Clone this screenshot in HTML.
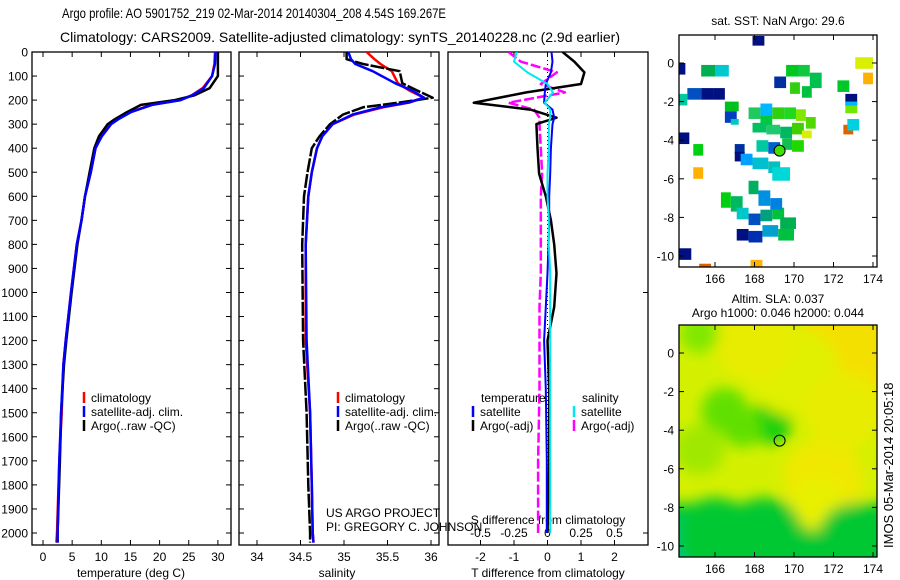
<!DOCTYPE html>
<html><head><meta charset="utf-8">
<style>
html,body{margin:0;padding:0;background:#fff;}
svg{display:block;font-family:"Liberation Sans",sans-serif;}
</style></head>
<body>
<svg id="fig" width="900" height="580" viewBox="0 0 900 580">
<defs>
<filter id="blur" x="-50%" y="-50%" width="200%" height="200%"><feGaussianBlur stdDeviation="7"/></filter>
<clipPath id="clipT"><rect x="32" y="52" width="199" height="493"/></clipPath>
<clipPath id="clipS"><rect x="239" y="52" width="200" height="493"/></clipPath>
<clipPath id="clipD"><rect x="448" y="52" width="200" height="493"/></clipPath>
<clipPath id="clipM1"><rect x="679" y="35" width="198" height="232"/></clipPath>
<clipPath id="clipM2"><rect x="679" y="325" width="198" height="232"/></clipPath>
</defs>
<text x="62" y="18" font-size="14" textLength="384" lengthAdjust="spacingAndGlyphs">Argo profile: AO 5901752_219 02-Mar-2014 20140304_208 4.54S 169.267E</text>
<text x="60" y="42" font-size="14" textLength="560" lengthAdjust="spacingAndGlyphs">Climatology: CARS2009. Satellite-adjusted climatology: synTS_20140228.nc (2.9d earlier)</text>

<g id="gT"></g>
<g id="gS"></g>
<g id="gD"></g>
<g id="gM1"></g>
<g id="gM2"></g>

<text x="0" y="0" font-size="13" transform="translate(893,548) rotate(-90)">IMOS 05-Mar-2014 20:05:18</text>
</svg>
<script>
// ---------- DATA ----------
const depthTicks = [0,100,200,300,400,500,600,700,800,900,1000,1100,1200,1300,1400,1500,1600,1700,1800,1900,2000];
const tTicks = [0,5,10,15,20,25,30];
const sTicks = [34,34.5,35,35.5,36];
const dTTicks = [-2,-1,0,1,2];
const dSTicks = [-0.5,-0.25,0,0.25,0.5];
const dSTickLabels = ['-0.5','-0.25','0','0.25','0.5'];

const tDepth = [0,50,100,150,180,200,220,250,280,300,350,400,500,600,700,800,1000,1200,1300,1500,1700,2000,2040];
const tClim  = [29.5,29.4,29.0,27.4,25.5,23.5,18.5,15.0,12.8,11.6,10.0,9.0,8.2,7.2,6.6,5.8,4.8,3.9,3.5,3.2,2.8,2.4,2.3];
const tSat   = [29.6,29.5,29.0,27.6,25.6,23.6,18.7,15.1,12.9,11.7,10.1,9.0,8.2,7.2,6.6,5.8,4.8,3.9,3.5,3.1,2.8,2.5,2.5];
const tArgo  = [30.0,30.0,30.0,28.6,26.0,22.6,16.8,14.4,12.3,11.1,9.6,8.8,8.0,7.2,6.6,5.9,4.9,4.0,3.6,3.1,2.9,2.5,2.5];

const sDepth = [0,30,50,80,130,160,190,210,230,260,300,350,400,500,600,800,1200,1500,1800,2000,2040];
const sClim  = [35.26,35.35,35.42,35.55,35.62,35.75,35.92,35.75,35.45,35.12,34.87,34.75,34.69,34.63,34.59,34.56,34.56,34.61,34.63,34.64,34.65];
const sSat   = [35.05,35.08,35.13,35.33,35.59,35.78,35.92,35.74,35.42,35.10,34.87,34.75,34.69,34.63,34.59,34.56,34.57,34.61,34.63,34.64,34.65];
const sArgo  = [35.03,35.03,35.22,35.64,35.67,35.84,36.02,35.64,35.22,34.99,34.84,34.72,34.63,34.58,34.54,34.52,34.53,34.57,34.59,34.61,34.61];

const dDepth = [0,40,85,133,168,211,240,273,300,400,506,600,700,800,920,1060,1200,1400,1700,2000];
const dTArgo = [0.45,0.8,1.1,1.0,-0.63,-2.2,-0.5,0.27,-0.33,-0.3,-0.25,-0.05,0.1,0.2,0.27,0.2,0.0,0.05,0.05,0.0];
const dTSat  = [0.12,0.15,0.1,-0.05,-0.08,-0.1,0.15,0.2,0.15,0.1,0.08,0.05,0.05,0.03,0.0,-0.05,-0.1,-0.05,-0.02,-0.02];
const dSArgo = [-0.29,-0.2,0.07,-0.05,0.13,-0.29,-0.1,-0.06,-0.06,-0.05,-0.04,-0.05,-0.05,-0.05,-0.05,-0.06,-0.06,-0.06,-0.07,-0.07];
const dSSat  = [-0.23,-0.25,-0.15,0.0,0.04,-0.02,0.02,0.02,0.01,0.01,0.0,0.0,0.01,0.01,0.02,0.02,0.02,0.02,0.02,0.02];

const latTicks = [0,-2,-4,-6,-8,-10];
const lonTicks = [166,168,170,172,174];
// SST cells: west lon, north lat, width(deg), height(deg), colour
const sstLon = [167.9,164.2,165.3,166.0,169.0,169.6,170.2,170.8,169.8,170.4,172.2,173.1,173.5,172.6,172.6,172.6,165.3,165.9,164.6,164.2,166.5,166.5,166.8,168.3,167.7,168.3,168.9,169.5,170.1,170.6,167.9,168.6,169.3,169.9,164.2,164.9,167.0,167.0,168.1,168.7,169.4,169.9,164.9,167.3,167.9,168.7,168.9,172.5,172.7,166.3,166.8,167.7,168.2,167.1,167.7,168.3,168.9,169.3,167.1,167.7,168.4,169.2,164.2,167.8,165.2,170.4,168.8];
const sstLat = [1.4,0.0,-0.1,-0.1,-0.7,-0.1,-0.1,-0.5,-1.0,-1.2,-0.9,0.3,-0.5,-1.6,-2.0,-2.2,-1.3,-1.3,-1.3,-1.6,-2.0,-2.5,-2.9,-2.1,-2.3,-2.7,-2.3,-2.3,-2.4,-2.8,-3.1,-3.2,-3.3,-3.1,-3.6,-4.2,-4.2,-4.6,-4.0,-4.1,-3.9,-4.0,-5.4,-4.7,-4.9,-5.1,-5.4,-3.2,-2.9,-6.7,-6.9,-6.1,-6.6,-7.5,-7.8,-7.6,-7.5,-8.0,-8.6,-8.7,-8.4,-8.6,-9.6,-10.2,-10.4,-3.5,-7.0];
const sstW = [0.6,0.3,0.7,0.7,0.6,0.7,0.6,0.6,0.5,0.5,0.6,0.9,0.5,0.6,0.6,0.6,0.6,0.6,0.7,0.4,0.7,0.6,0.4,0.6,0.6,0.6,0.6,0.6,0.5,0.5,0.7,0.7,0.6,0.6,0.5,0.5,0.5,0.5,0.6,0.6,0.5,0.6,0.5,0.6,0.8,0.6,0.9,0.5,0.6,0.5,0.6,0.5,0.6,0.6,0.6,0.6,0.6,0.8,0.6,0.7,0.8,0.8,0.6,0.6,0.6,0.5,0.6];
const sstH = [0.5,0.6,0.6,0.6,0.6,0.6,0.6,0.8,0.6,0.6,0.6,0.6,0.6,0.6,0.2,0.4,0.6,0.6,0.6,0.6,0.5,0.6,0.3,0.6,0.6,0.6,0.6,0.6,0.6,0.6,0.5,0.5,0.6,0.6,0.6,0.6,0.5,0.5,0.6,0.6,0.6,0.6,0.6,0.6,0.6,0.6,0.7,0.5,0.6,0.8,0.8,0.7,0.8,0.6,0.6,0.6,0.6,0.6,0.6,0.6,0.6,0.6,0.6,0.4,0.2,0.4,0.6];
const sstColor = ['#001080','#001080','#00b050','#00c8d0','#0030a0','#00c820','#10c840','#00c050','#30d010','#00c040','#00c828','#d8f000','#ffb000','#001080','#00b8ff','#70e800','#001080','#001080','#0050c0','#00c8a0','#00c020','#0040c0','#00c8c0','#00b8ff','#20c860','#00c840','#30d010','#20d820','#80e800','#50d800','#00c060','#20c870','#00b860','#40d000','#001080','#00d010','#0030a0','#001080','#00c8a0','#0060d0','#10c050','#20d800','#ffb000','#00a0ff','#00c0d0','#00c0c0','#00d8d8','#e06000','#00d0e0','#00d010','#00b860','#00b060','#0090e0','#00c8c8','#0050c0','#00a080','#00c040','#00b050','#001080','#0030b0','#00a0d0','#00c040','#001080','#ffb000','#e06000','#d8f000','#0080e0'];
// Altimetry blobs: lon, lat, radius(deg), colour
const slaLon = [173,171.5,171.2,166.5,168.8,167.4,170,165,166,168.5,173,165.2,168,172.5,165.2];
const slaLat = [0.5,-6.5,-7.8,-3,-3.6,-3.9,-1,-9.8,-9.5,-9.5,-9.6,-5,0.5,-3,1];
const slaR   = [2.8,2.0,1.4,1.2,1.1,1.0,2.3,1.6,2.0,2.0,1.8,1.3,2,2,1.0];
const slaColor=['#f4e000','#f0e800','#e8f000','#60e000','#10d010','#60e000','#e0f000','#00c890','#00c830','#00c830','#00c830','#a0e800','#e8ec00','#e8ec00','#80e800'];

// ---------- helpers ----------
const NS='http://www.w3.org/2000/svg';
function mk(parent,tag,attrs){const e=document.createElementNS(NS,tag);for(const k in attrs)e.setAttribute(k,attrs[k]);parent.appendChild(e);return e;}
const yD = d => 52 + d*0.2405;
const xT = t => 43 + t*5.83;
const xS = s => 300.5 + (s-34.5)*87;
const xDT = v => 547.5 + v*33.5;
const xDS = v => 547.5 + v*134;
const xLon = l => 715 + (l-166)*19.75;
const yLat1 = l => 63 - l*19.3;
const yLat2 = l => 353 - l*19.3;

function frame(g,x,y,w,h){
  const r=mk(g,'rect',{x:x,y:y,width:w,height:h,fill:'none',stroke:'#000','stroke-width':1.3});
  
  
}
function xTicks(g,vals,labels,fx,yTop,yBot,ly){
  vals.forEach((v,i)=>{
    const x=fx(v);
    mk(g,'line',{x1:x,x2:x,y1:yBot,y2:yBot-5,stroke:'#000'});
    mk(g,'line',{x1:x,x2:x,y1:yTop,y2:yTop+5,stroke:'#000'});
    if(labels){const t=mk(g,'text',{x:x,y:ly,'font-size':12,'text-anchor':'middle'});t.textContent=labels[i];
      
      }
  });
}
function line(g,xs,ys,color,w,dash,clip,name){
  const d=xs.map((x,i)=>(i?'L':'M')+x.toFixed(1)+','+ys[i].toFixed(1)).join('');
  const p=mk(g,'path',{d:d,fill:'none',stroke:color,'stroke-width':w,'clip-path':'url(#'+clip+')','stroke-linejoin':'round'});
  if(dash)p.setAttribute('stroke-dasharray',dash);
  
  
}
function txt(g,x,y,s,size,name,anchor){
  const t=mk(g,'text',{x:x,y:y,'font-size':size,'text-anchor':anchor||'start'});t.textContent=s;
  
  
  return t;
}
function legendEntry(g,x,y,color,label){
  mk(g,'line',{x1:x,x2:x,y1:y-10,y2:y+1,stroke:color,'stroke-width':2.5});
  txt(g,x+7,y,label,12,'legend-entry');
}

// ---------- temperature panel ----------
const gT=document.getElementById('gT');
frame(gT,32,52,199,493);
depthTicks.forEach(d=>{
  mk(gT,'line',{x1:32,x2:37,y1:yD(d),y2:yD(d),stroke:'#000'});
  mk(gT,'line',{x1:231,x2:226,y1:yD(d),y2:yD(d),stroke:'#000'});
  txt(gT,28,yD(d)+4.5,String(d),12,'y-tick-label','end');
});
xTicks(gT,tTicks,tTicks.map(String),xT,52,545,561);
txt(gT,131,577,'temperature (deg C)',12,'x-axis-title','middle');
line(gT,tClim.map(xT),tDepth.map(yD),'#ff0000',2.5,null,'clipT','climatology-temperature-line');
line(gT,tArgo.map(xT),tDepth.map(yD),'#000',2.5,null,'clipT','argo-temperature-line');
line(gT,tSat.map(xT),tDepth.map(yD),'#0000ff',2.5,null,'clipT','satellite-temperature-line');
legendEntry(gT,84,402,'#ff0000','climatology');
legendEntry(gT,84,416,'#0000ff','satellite-adj. clim.');
legendEntry(gT,84,430,'#000','Argo(..raw -QC)');

// ---------- salinity panel ----------
const gS=document.getElementById('gS');
frame(gS,239,52,200,493);
depthTicks.forEach(d=>{
  mk(gS,'line',{x1:239,x2:244,y1:yD(d),y2:yD(d),stroke:'#000'});
  mk(gS,'line',{x1:439,x2:434,y1:yD(d),y2:yD(d),stroke:'#000'});
});
xTicks(gS,sTicks,sTicks.map(String),xS,52,545,561);
txt(gS,337,577,'salinity',12,'x-axis-title','middle');
line(gS,sClim.map(xS),sDepth.map(yD),'#ff0000',2.5,null,'clipS','climatology-salinity-line');
line(gS,sArgo.map(xS),sDepth.map(yD),'#000',2.5,'14,2','clipS','argo-salinity-line');
line(gS,sSat.map(xS),sDepth.map(yD),'#0000ff',2.5,null,'clipS','satellite-salinity-line');
legendEntry(gS,338,402,'#ff0000','climatology');
legendEntry(gS,338,416,'#0000ff','satellite-adj. clim.');
legendEntry(gS,338,430,'#000','Argo(..raw -QC)');
txt(gS,326,517,'US ARGO PROJECT',12,'credit-text');
txt(gS,326,531,'PI: GREGORY C. JOHNSON',12,'credit-text');

// ---------- difference panel ----------
const gD=document.getElementById('gD');
frame(gD,448,52,200,493);
[0,1000,2000].forEach(d=>{
  mk(gD,'line',{x1:648,x2:643,y1:yD(d),y2:yD(d),stroke:'#000'});
});
xTicks(gD,dTTicks,dTTicks.map(String),xDT,52,545,561);
dSTicks.forEach((v,i)=>txt(gD,xDS(v),537,dSTickLabels[i],12,'s-tick-label','middle'));
txt(gD,548,524,'S difference from climatology',12,'s-axis-title','middle');
txt(gD,548,577,'T difference from climatology',12,'x-axis-title','middle');
mk(gD,'line',{x1:xDT(0),x2:xDT(0),y1:52,y2:545,stroke:'#000','stroke-dasharray':'1,3'});
line(gD,dSArgo.map(xDS),dDepth.map(yD),'#ff00ff',2.5,'10,3','clipD','argo-salinity-diff-line');
line(gD,dTArgo.map(xDT),dDepth.map(yD),'#000',2.5,null,'clipD','argo-temperature-diff-line');
line(gD,dTSat.map(xDT),dDepth.map(yD),'#0000ff',2,null,'clipD','satellite-temperature-diff-line');
line(gD,dSSat.map(xDS),dDepth.map(yD),'#00e8f0',2,null,'clipD','satellite-salinity-diff-line');
txt(gD,481,402,'temperature',12,'legend-title');
txt(gD,582,402,'salinity',12,'legend-title');
legendEntry(gD,473,416,'#0000ff','satellite');
legendEntry(gD,473,430,'#000','Argo(-adj)');
legendEntry(gD,574,416,'#00e8f0','satellite');
legendEntry(gD,574,430,'#ff00ff','Argo(-adj)');

// ---------- map axes ----------
function mapAxes(g,top,bot,fy){
  frame(g,679,top,198,bot-top);
  latTicks.forEach(l=>{
    const y=fy(l);
    mk(g,'line',{x1:679,x2:684,y1:y,y2:y,stroke:'#000'});
    mk(g,'line',{x1:877,x2:872,y1:y,y2:y,stroke:'#000'});
    txt(g,674,y+4.5,String(l),12,'y-tick-label','end');
  });
  lonTicks.forEach(l=>{
    const x=xLon(l);
    mk(g,'line',{x1:x,x2:x,y1:bot,y2:bot-5,stroke:'#000'});
    mk(g,'line',{x1:x,x2:x,y1:top,y2:top+5,stroke:'#000'});
    txt(g,x,bot+16,String(l),12,'x-tick-label','middle');
  });
}
// SST map
const gM1=document.getElementById('gM1');
txt(gM1,778,25,'sat. SST: NaN Argo: 29.6',12,'sst-map-title','middle');
const m1=mk(gM1,'g',{'clip-path':'url(#clipM1)'});
sstLon.forEach((lo,i)=>{
  const r=mk(m1,'rect',{x:xLon(lo),y:yLat1(sstLat[i]),width:sstW[i]*19.75,height:sstH[i]*19.3,fill:sstColor[i]});
  
  
});
mk(gM1,'circle',{cx:xLon(169.27),cy:yLat1(-4.54),r:5.5,fill:'#40e000',stroke:'#000'});
mapAxes(gM1,35,267,yLat1);

// Altimetry map
const gM2=document.getElementById('gM2');
txt(gM2,778,303,'Altim. SLA: 0.037',12,'altimetry-title','middle');
txt(gM2,778,317,'Argo h1000: 0.046 h2000: 0.044',12,'altimetry-subtitle','middle');
const m2=mk(gM2,'g',{'clip-path':'url(#clipM2)'});
mk(m2,'rect',{x:679,y:325,width:198,height:232,fill:'#d4f000'});
const bl=mk(m2,'g',{filter:'url(#blur)'});
mk(bl,'rect',{x:660,y:yLat2(-7.8),width:240,height:80,fill:'#00c830'});
slaLon.forEach((lo,i)=>{
  const c=mk(bl,'ellipse',{cx:xLon(lo),cy:yLat2(slaLat[i]),rx:slaR[i]*19.75,ry:slaR[i]*19.3,fill:slaColor[i]});
  
  
});
mk(gM2,'circle',{cx:xLon(169.27),cy:yLat2(-4.54),r:5.5,fill:'none',stroke:'#000'});
mapAxes(gM2,325,557,yLat2);
</script>
</body></html>
